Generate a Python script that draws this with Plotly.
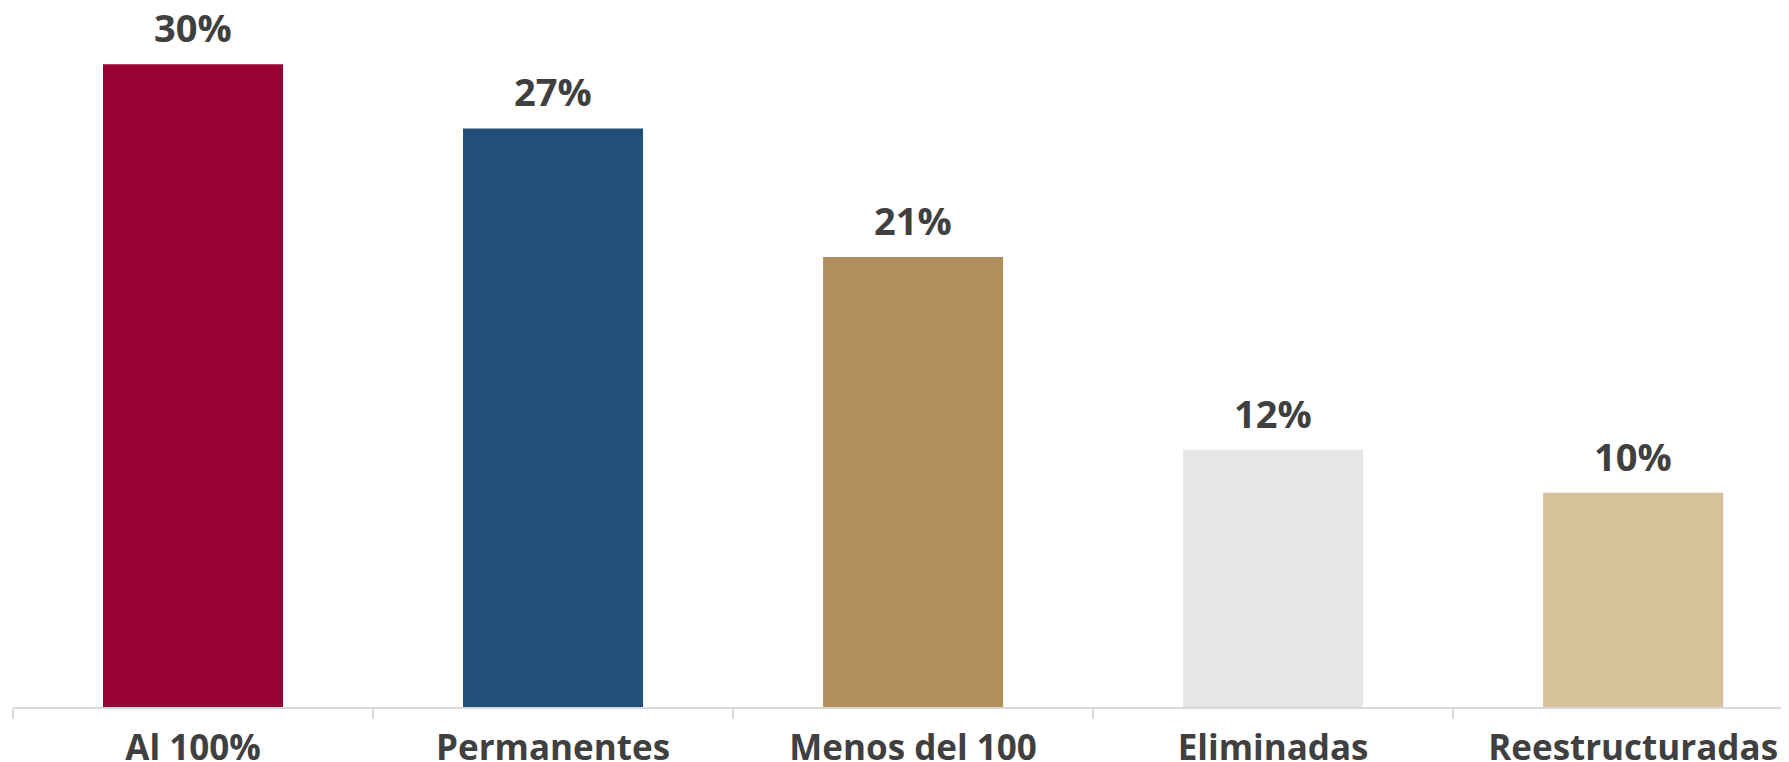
import plotly.graph_objects as go

categories = ["Al 100%", "Permanentes", "Menos del 100", "Eliminadas", "Reestructuradas"]
values = [30, 27, 21, 12, 10]
value_labels = ["30%", "27%", "21%", "12%", "10%"]
colors = ["#990033", "#214F78", "#B38E5D", "#E6E6E6", "#D5C19A"]

TEXT = "#404040"

fig = go.Figure()
fig.add_trace(go.Bar(
    x=categories, y=values,
    marker=dict(color=colors, line=dict(width=0)),
    width=0.5,
    hoverinfo="skip",
))

for c, v, t in zip(categories, values, value_labels):
    fig.add_annotation(
        x=c, y=v, text=t, showarrow=False,
        xanchor="center", yanchor="bottom", yshift=9,
        font=dict(family="Open Sans", size=38, color=TEXT, weight="bold"),
    )

fig.update_layout(
    width=1781, height=754,
    margin=dict(l=5, r=0, t=0, b=55),
    paper_bgcolor="white", plot_bgcolor="white",
    showlegend=False,
    xaxis=dict(
        type="category",
        range=[-0.5, 4.433],
        automargin=False,
        showline=True, linecolor="#D9D9D9", linewidth=2,
        ticks="outside", tickson="boundaries", ticklen=10,
        tickcolor="#D9D9D9", tickwidth=2,
        showgrid=False, zeroline=False,
        ticklabelstandoff=9,
        tickfont=dict(family="Open Sans", size=35, color=TEXT, weight="bold"),
    ),
    yaxis=dict(
        range=[0, 32.62], visible=False, showgrid=False, zeroline=False,
        automargin=False,
    ),
)

fig.write_html("out.html")
